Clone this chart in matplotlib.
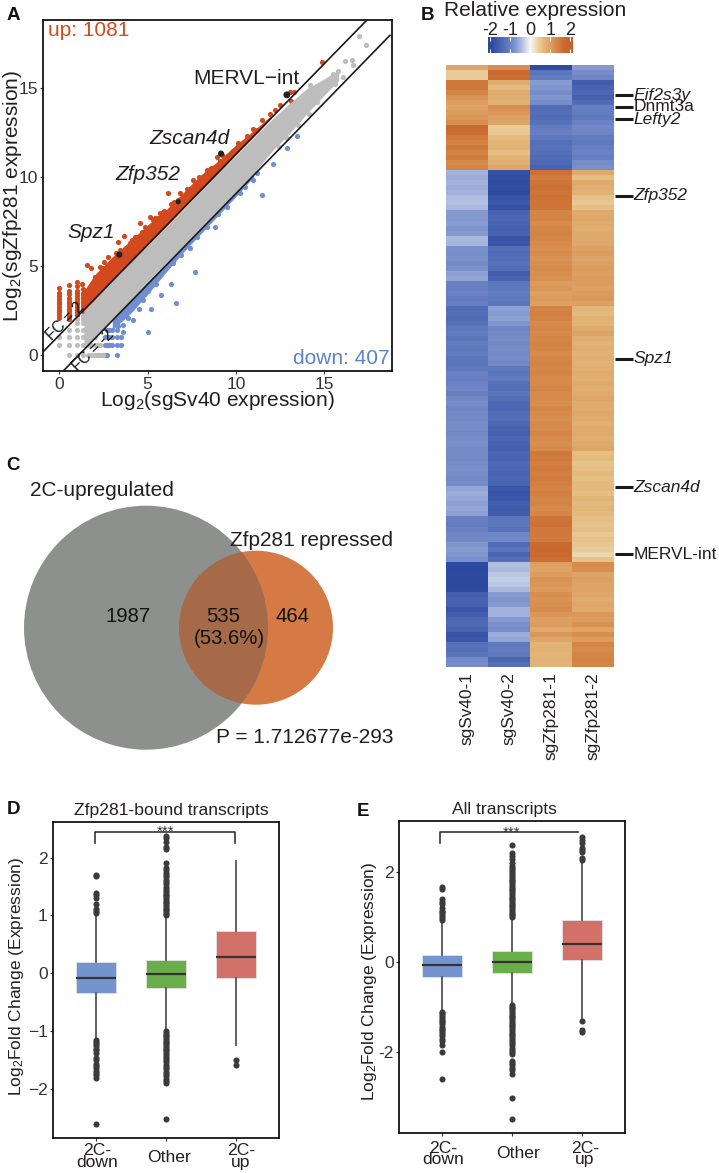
import matplotlib
matplotlib.use("Agg")
import matplotlib.pyplot as plt
from matplotlib.colors import LinearSegmentedColormap
from matplotlib.patches import Circle
import numpy as np

plt.rcParams['font.family'] = ['Liberation Sans', 'DejaVu Sans']
plt.rcParams['mathtext.fontset'] = 'custom'
plt.rcParams['mathtext.rm'] = 'Liberation Sans'
plt.rcParams['mathtext.it'] = 'Liberation Sans:italic'
plt.rcParams['mathtext.default'] = 'regular'

W, H = 719, 1173
INK = '#231F20'

# panel A
fc_up_x = [-0.9, 17.4]
fc_up_y = [0.19, 18.8]
fc_down_x = [0.23, 18.7]
fc_down_y = [-0.9, 17.94]

band_x = [1.4, 2, 3, 4, 5, 6, 7, 8, 9, 10, 11, 12]
red_lo = [2.4, 3.0, 4.1, 5.1, 6.15, 7.15, 8.2, 9.2, 10.2, 11.25, 12.25, 13.3]
red_hi = [3.6, 4.5, 5.5, 6.4, 7.3, 8.1, 9.1, 10.1, 10.9, 11.8, 12.6, 13.45]

blue_x = [3, 4, 5, 6, 7, 8, 9, 10, 11]
blue_lo = [1.4, 2.3, 3.4, 4.6, 5.75, 6.8, 7.85, 8.9, 10.0]
blue_hi = [2.0, 3.05, 4.1, 5.1, 6.1, 7.15, 8.15, 9.2, 10.2]

gray_x = [1.4, 2, 3, 4, 5, 6, 7, 8, 9, 10, 11, 12, 13, 14, 15, 15.8]
gray_hi = [2.5, 3.1, 4.2, 5.15, 6.15, 7.15, 8.15, 9.2, 10.2, 11.2, 12.2, 13.2, 14.1, 14.95, 15.5, 16.0]
gray_lo = [0.4, 1.0, 2.0, 3.05, 4.1, 5.1, 6.1, 7.15, 8.15, 9.2, 10.2, 11.4, 12.4, 13.55, 14.6, 15.4]

gray_dots_x = [0, 0, 0.57, 0.57, 0.57, 0.57, 0.98, 0.98, 0.98, 0.98, 0.98, 0.98, 1.32, 1.32, 1.32, 1.32, 1.32, 1.32, 1.32,
               1.64, 1.64, 1.64, 1.64, 1.81, 1.81, 1.81, 2, 2, 2, 2.17, 2.17, 2.32, 2.32, 2.46,
               16.17, 16.55, 16.64, 16.96, 17.35, 15.5, 15.75, 16.05, 15.3, 14.2,
               12.4, 12.9, 13.5, 14.1, 14.6, 15.1, 15.6]
gray_dots_y = [0.56, 1.03, 0, 0.56, 1.03, 1.4, 0, 0.56, 1.03, 1.4, 1.78, 2.0, 0, 0.56, 1.03, 1.4, 1.78, 2.0, 2.2,
               0, 0.56, 1.03, 1.4, 0, 0.56, 1.03, 0, 0.56, 1.03, 0, 0.56, 0, 0.56, 0,
               16.5, 16.57, 16.26, 17.9, 17.4, 15.75, 15.95, 15.6, 15.4, 15.15,
               11.7, 12.2, 12.9, 13.5, 14.2, 14.9, 15.2]

red_dots_x = [0, 0, 0, 0, 0, 0, 0, 0, 0, 0, 0, 0.57, 0.57, 0.57, 0.57, 0.57, 0.57, 0.57, 0.57, 0.57, 0.57, 0.57, 0.57,
              0.98, 0.98, 0.98, 0.98, 0.98, 0.98, 0.98, 0.98, 0.98, 0.98, 0.98, 0.98, 1.32, 1.32, 1.32, 1.32, 1.32, 1.32, 1.32, 1.32, 1.32,
              1.3, 1.58, 1.8, 2.1, 2.3, 2.55, 2.77, 3.0, 3.34, 3.66, 3.45, 4.1, 4.3, 4.57, 4.85, 5.13,
              5.4, 5.7, 5.9, 6.17, 6.5, 6.83, 7.2, 7.58, 7.9, 8.34, 8.6, 8.9, 9.2, 9.75, 10.1, 10.6,
              10.96, 11.2, 11.47, 11.9, 12.2, 12.5, 13.05, 13.3, 13.1, 14.85,
              2.0, 2.4, 2.9, 3.2, 3.8, 4.0, 4.4, 4.7, 5.0, 5.3, 5.6, 6.0, 6.3, 6.7, 7.0, 7.4, 7.7, 8.1, 8.5, 8.8,
              9.1, 9.5]
red_dots_y = [2.1, 2.25, 2.4, 2.55, 2.7, 2.85, 3.0, 3.15, 3.3, 3.5, 3.76, 2.0, 2.15, 2.3, 2.45, 2.6, 2.75, 2.9, 3.05, 3.2, 3.4, 3.6, 3.9,
              2.25, 2.4, 2.55, 2.7, 2.85, 3.0, 3.15, 3.3, 3.45, 3.6, 3.85, 4.1, 2.45, 2.6, 2.75, 2.9, 3.05, 3.2, 3.35, 3.5, 3.7,
              4.0, 5.05, 4.9, 4.2, 4.95, 5.2, 5.5, 5.2, 6.35, 6.67, 5.9, 6.45, 6.6, 7.38, 7.2, 7.75,
              7.7, 7.95, 8.1, 9.1, 8.6, 9.07, 9.3, 9.8, 10.0, 10.37, 10.5, 11.1, 11.2, 11.4, 11.9, 12.3,
              12.7, 12.65, 13.2, 13.5, 13.75, 14.03, 14.77, 14.77, 14.25, 16.45,
              4.4, 4.9, 5.0, 5.7, 6.0, 6.3, 6.6, 6.9, 7.0, 7.6, 7.7, 8.0, 8.5, 8.7, 8.9, 9.3, 9.6, 9.9, 10.3, 10.4,
              10.9, 11.1]

blue_dots_x = [2.0, 2.17, 2.32, 2.46, 2.58, 2.7, 3.25, 2.6, 2.7, 2.81, 3.0, 3.25, 3.5,
               2.58, 2.7, 2.81, 3.0, 3.25, 3.5, 2.7, 2.81, 3.0, 3.25, 3.6, 3.3, 3.6,
               3.9, 4.2, 4.0, 4.5, 4.75, 4.4, 5.0, 5.5, 5.04, 5.17, 6.6, 5.75, 7.68, 6.3, 6.45, 7.4, 6.9,
               7.8, 8.34, 8.8, 9.47, 10.2, 10.98, 11.45, 12.87, 13.43, 12.07, 11.2, 9.0, 10.5]
blue_dots_y = [0, 0, 0, 0, 0, 0, 0, 0.56, 0.56, 0.56, 0.56, 0.56, 0.56,
               1.03, 1.03, 1.03, 1.03, 1.03, 1.03, 1.4, 1.4, 1.4, 1.4, 1.68, 1.6, 1.3,
               2.1, 1.96, 2.5, 2.6, 3.08, 3.2, 3.6, 4.0, 1.31, 2.56, 2.9, 3.36, 4.64, 4.0, 5.14, 5.98, 5.6,
               6.6, 7.2, 7.2, 8.32, 9.07, 9.8, 9.0, 11.63, 12.3, 10.73, 10.2, 7.9, 9.4]

marked_x = [3.4, 6.73, 9.15, 12.87]
marked_y = [5.63, 8.6, 11.3, 14.6]
marked_size = [20, 14, 20, 24]

# panel B, one row per line of the heatmap
sv40_1 = [0.9, 0.45, 0.45, 1.5, 1.5, 1.3, 1.15, 1.0, 0.95, 1.05, 1.1, 1.2, 1.7, 1.65, 1.45, 1.35, 1.5, 1.35, 1.45, 1.25, 1.3,
          -0.5, -0.55, -0.5, -0.55, -0.5, -0.42, -0.4, -0.45, -0.7, -0.72, -0.68, -0.75, -0.7, -0.45, -0.48,
          -0.8, -0.82, -0.78, -0.85, -0.8, -0.65, -0.62, -1.0, -1.05, -1.0, -1.1, -1.05, -1.35, -1.3, -1.35, -1.25,
          -1.15, -1.1, -1.2, -1.1, -1.15, -1.1, -1.2, -1.2, -1.15, -1.0, -1.05, -1.0, -0.95, -1.05,
          -0.9, -0.85, -0.95, -0.9, -0.9, -0.85, -0.85, -0.9, -0.85, -0.8, -0.85,
          -0.85, -0.9, -0.85, -0.8, -0.85, -0.9, -0.85, -0.6, -0.55, -0.6, -0.65, -0.6, -0.65,
          -1.05, -1.1, -1.0, -0.95, -0.9, -0.75, -0.7, -0.75, -0.8,
          -1.95, -1.95, -1.9, -2.0, -1.95, -1.9, -1.55, -1.5, -1.55, -1.75, -1.6, -1.45, -1.4, -1.5, -1.75, -1.7, -1.25, -1.3, -1.2, -0.9, -0.85]
sv40_2 = [1.2, 1.7, 1.65, 0.85, 0.65, 0.85, 0.8, 0.75, 1.2, 1.1, 1.0, 0.95, 0.45, 0.5, 0.65, 0.7, 0.75, 0.6, 0.7, 0.8, 0.9,
          -1.8, -1.85, -1.9, -1.85, -1.9, -1.75, -1.7, -1.8, -1.5, -1.45, -1.5, -1.55, -1.5, -1.75, -1.7,
          -1.3, -1.35, -1.3, -1.25, -1.3, -1.6, -1.5, -1.2, -1.15, -1.1, -1.15, -1.2, -0.65, -0.7, -0.65, -0.75,
          -0.95, -0.9, -0.85, -0.9, -0.85, -0.9, -0.85, -0.9, -1.15, -1.2, -1.1, -1.25, -1.3, -1.2,
          -1.3, -1.4, -1.45, -1.35, -1.3, -1.4, -1.5, -1.55, -1.45, -1.5, -1.55,
          -1.45, -1.5, -1.4, -1.45, -1.5, -1.45, -1.5, -1.7, -1.75, -1.7, -1.6, -1.65, -1.6,
          -1.2, -1.15, -1.25, -0.95, -0.9, -1.35, -1.2, -1.45, -1.3,
          -0.4, -0.45, -0.35, -0.3, -0.35, -0.45, -0.7, -0.75, -0.7, -0.5, -0.5, -0.7, -0.8, -0.85, -0.55, -0.6, -1.15, -1.1, -1.15, -1.5, -1.3]
zfp281_1 = [-1.9, -1.2, -1.1, -0.7, -0.75, -0.85, -0.75, -0.85, -1.35, -1.3, -1.35, -1.25, -1.1, -1.05, -1.15, -1.3, -1.25, -1.3, -1.35, -1.4, -1.5,
            1.6, 1.45, 1.55, 1.6, 1.55, 1.6, 1.55, 1.55, 1.3, 1.35, 1.25, 1.3, 1.35, 1.3, 1.25,
            1.2, 1.25, 1.15, 1.2, 1.25, 1.2, 1.15, 1.05, 1.1, 1.0, 1.05, 1.0, 1.35, 1.4, 1.35, 1.25,
            1.3, 1.25, 1.3, 1.35, 1.3, 1.25, 1.3, 1.35, 1.3, 1.35, 1.25, 1.25, 1.3, 1.25,
            1.25, 1.2, 1.3, 1.25, 1.2, 1.25, 1.25, 1.3, 1.25, 1.2, 1.25,
            1.5, 1.45, 1.4, 1.45, 1.4, 1.45, 1.4, 1.35, 1.4, 1.3, 1.35, 1.25, 1.3,
            1.55, 1.6, 1.5, 1.5, 1.45, 1.7, 1.75, 1.7, 1.65,
            1.0, 0.95, 1.05, 1.15, 1.1, 1.05, 1.2, 1.15, 1.2, 1.25, 1.1, 1.0, 1.05, 0.85, 1.1, 0.9, 0.7, 0.75, 0.7, 0.75, 0.7]
zfp281_2 = [-0.7, -0.85, -0.95, -1.6, -1.5, -1.4, -1.55, -1.35, -1.05, -1.1, -1.15, -1.0, -0.9, -0.95, -1.1, -1.15, -1.05, -1.0, -1.05, -0.85, -0.8,
            0.85, 0.6, 0.85, 0.8, 0.75, 0.55, 0.5, 0.6, 0.85, 0.9, 0.85, 0.8, 0.85, 0.85, 0.9,
            1.0, 1.05, 0.95, 1.0, 1.05, 1.0, 1.05, 1.05, 1.0, 1.05, 1.1, 1.0, 0.7, 0.65, 0.75, 0.7,
            0.85, 0.95, 0.8, 0.75, 0.8, 0.75, 0.8, 0.75, 0.8, 0.85, 0.8, 0.85, 0.8, 0.85,
            0.9, 0.85, 0.85, 0.9, 0.85, 0.8, 0.85, 0.85, 0.8, 0.85, 0.9,
            0.6, 0.65, 0.55, 0.6, 0.65, 0.6, 0.65, 0.65, 0.6, 0.7, 0.65, 0.7, 0.65,
            0.6, 0.55, 0.6, 0.5, 0.55, 0.5, 0.45, 0.33, 0.55,
            1.25, 1.2, 0.95, 1.0, 0.95, 0.95, 0.9, 0.85, 0.9, 0.85, 1.1, 1.05, 1.15, 0.95, 1.2, 1.05, 1.3, 1.25, 1.3, 1.35, 1.3]
samples = ['sgSv40-1', 'sgSv40-2', 'sgZfp281-1', 'sgZfp281-2']
genes = ['Eif2s3y', 'Dnmt3a', 'Lefty2', 'Zfp352', 'Spz1', 'Zscan4d', 'MERVL-int']
gene_rows = [5.5, 7.8, 10.3, 25.6, 58.1, 83.7, 97.1]
gene_italic = [True, False, True, True, True, True, False]

# panels D and E
groups = ['2C-\ndown', 'Other', '2C-\nup']
box_colors = ['#7394CE', '#69AE48', '#D2706A']

d_q1 = [-0.334, -0.26, -0.075]
d_med = [-0.075, -0.017, 0.277]
d_q3 = [0.196, 0.23, 0.73]
d_lo = [-1.12, -0.97, -1.24]
d_hi = [1.0, 0.97, 1.94]
d_fliers = [
    [1.05, 1.08, 1.12, 1.2, 1.3, 1.35, 1.38, 1.68, 1.7, -1.15, -1.18, -1.22, -1.26, -1.3, -1.33, -1.37,
     -1.46, -1.5, -1.57, -1.6, -1.64, -1.68, -1.72, -1.76, -1.8, -2.6],
    [1.0, 1.03, 1.06, 1.09, 1.12, 1.15, 1.18, 1.21, 1.24, 1.27, 1.3, 1.33, 1.36, 1.39, 1.42, 1.46, 1.5, 1.54,
     1.58, 1.62, 1.66, 1.7, 1.74, 1.78, 1.82, 1.9, 2.15, 2.18, 2.27, 2.33, 2.38,
     -1.0, -1.03, -1.06, -1.09, -1.12, -1.15, -1.18, -1.21, -1.24, -1.27, -1.3, -1.33, -1.36, -1.39, -1.42, -1.46,
     -1.5, -1.54, -1.58, -1.62, -1.66, -1.7, -1.74, -1.78, -1.82, -1.86, -1.9, -2.52],
    [-1.5, -1.58],
]

e_q1 = [-0.327, -0.23, 0.05]
e_med = [-0.067, 0.0, 0.41]
e_q3 = [0.17, 0.26, 0.93]
e_lo = [-1.06, -0.93, -1.25]
e_hi = [0.906, 0.98, 2.24]
e_fliers = [
    [0.95, 0.99, 1.03, 1.07, 1.11, 1.15, 1.2, 1.3, 1.35, 1.4, 1.62, 1.67,
     -1.1, -1.14, -1.18, -1.22, -1.26, -1.3, -1.34, -1.38, -1.44, -1.48, -1.52, -1.56, -1.6, -1.65, -1.7, -1.75, -1.85, -2.0, -2.6],
    [1.0, 1.04, 1.08, 1.12, 1.16, 1.2, 1.24, 1.28, 1.32, 1.36, 1.4, 1.44, 1.48, 1.52, 1.56, 1.6, 1.64, 1.68, 1.72,
     1.76, 1.8, 1.84, 1.88, 1.92, 1.96, 2.0, 2.05, 2.1, 2.15, 2.2, 2.3, 2.36, 2.42, 2.6,
     -0.95, -0.99, -1.03, -1.07, -1.11, -1.15, -1.19, -1.23, -1.27, -1.31, -1.35, -1.39, -1.43, -1.47, -1.51, -1.55,
     -1.59, -1.63, -1.67, -1.71, -1.75, -1.8, -1.85, -1.9, -1.95, -2.0, -2.05, -2.2, -2.25, -2.3, -2.35, -2.4, -2.5, -3.03, -3.5],
    [2.27, 2.33, 2.45, 2.5, 2.55, 2.65, 2.72, 2.78, -1.3, -1.5, -1.55],
]


def px_axes(left, top, right, bottom):
    return fig.add_axes([left / W, 1 - bottom / H, (right - left) / W, (bottom - top) / H])


fig = plt.figure(figsize=(W / 100, H / 100), dpi=100, facecolor='white')

# ---- A scatter
ax = px_axes(43.3, 20, 391.7, 371)
ax.fill_between(band_x, red_lo, red_hi, color='#D2491E', lw=0, zorder=1)
ax.fill_between(blue_x, blue_lo, blue_hi, color='#6F8FD2', lw=0, zorder=1)
ax.scatter(red_dots_x, red_dots_y, s=14, color='#D2491E', lw=0, zorder=1)
ax.scatter(blue_dots_x, blue_dots_y, s=14, color='#6F8FD2', lw=0, zorder=1)
ax.fill_between(gray_x, gray_lo, gray_hi, color='#BDBDBD', lw=0, zorder=2)
ax.scatter(gray_dots_x, gray_dots_y, s=14, color='#BDBDBD', lw=0, zorder=2)
ax.scatter(marked_x, marked_y, s=marked_size, color='#222222', lw=0, zorder=4)
ax.plot(fc_up_x, fc_up_y, color='#1a1a1a', lw=1.2, zorder=3)
ax.plot(fc_down_x, fc_down_y, color='#1a1a1a', lw=1.2, zorder=3)
ax.set_xlim(-0.9, 18.8)
ax.set_ylim(-0.9, 18.8)
ax.set_xticks([0, 5, 10, 15])
ax.set_yticks([0, 5, 10, 15])
ax.tick_params(labelsize=12.5, length=2.5, width=0.8, pad=1.5, colors='#333333')
ax.set_xlabel('Log$_2$(sgSv40 expression)', fontsize=15, color=INK, labelpad=-1.5)
ax.set_ylabel('Log$_2$(sgZfp281 expression)', fontsize=15, color=INK)
ax.yaxis.set_label_coords(-0.055, 0.5)
for s in ax.spines.values():
    s.set_linewidth(1.2)

# ---- B heatmap
ax_h = px_axes(446, 65, 613.7, 666.7)
matrix = np.array([sv40_1, sv40_2, zfp281_1, zfp281_2]).T
span = 2.12
nodes = [(-2.12, '#2A479F'), (-1.9, '#2F4CA2'), (-1.3, '#5570B8'), (-0.8, '#7A90CB'), (-0.5, '#A3B3DD'), (0, '#F8F8F2'),
         (0.35, '#EBD5A8'), (0.7, '#E3B678'), (1.0, '#DDA163'), (1.3, '#D58748'), (1.7, '#CB6A31'), (2.12, '#C65F28')]
cmap = LinearSegmentedColormap.from_list('relexp', [((v + span) / (2 * span), c) for v, c in nodes])
im = ax_h.imshow(matrix, aspect='auto', cmap=cmap, vmin=-span, vmax=span, interpolation='nearest')
ax_h.set_yticks([])
ax_h.set_xticks(range(4), samples, rotation=90, fontsize=12.4, color=INK)
ax_h.tick_params(axis='x', length=0, pad=4)
for s in ax_h.spines.values():
    s.set_visible(False)
for g, r, it in zip(genes, gene_rows, gene_italic):
    ax_h.plot([3.53, 3.95], [r, r], color='#1a1a1a', lw=2.2, clip_on=False, solid_capstyle='butt')
    ax_h.text(3.97, r, g, fontsize=12.5, style='italic' if it else 'normal', va='center', ha='left', color=INK)
ax_h.set_xlim(-0.5, 3.5)
ax_h.set_ylim(len(sv40_1) - 0.5, -0.5)

cax = px_axes(487.7, 36.7, 572.7, 53.3)
cb = fig.colorbar(im, cax=cax, orientation='horizontal', ticks=[-2, -1, 0, 1, 2])
cb.outline.set_visible(False)
cax.set_xticklabels(['-2', '-1', '0', '1', '2'])
cax.tick_params(axis='x', top=True, bottom=True, labeltop=True, labelbottom=False, direction='in', color='white',
                length=3, width=0.8, labelsize=13, pad=-2, labelcolor=INK)

# ---- D and E boxplots
def boxes(rect, ylim, yticks, ylabels, q1, med, q3, lo, hi, fliers, title, title_x, ylab_xy):
    a = px_axes(*rect)
    stats = [dict(q1=q1[i], med=med[i], q3=q3[i], whislo=lo[i], whishi=hi[i], fliers=fliers[i]) for i in range(3)]
    b = a.bxp(stats, positions=[1, 2, 3], widths=0.57, patch_artist=True, showcaps=False,
              whiskerprops=dict(color='#555555', lw=1.3),
              medianprops=dict(color='#333333', lw=1.6),
              flierprops=dict(marker='o', ms=4.4, mfc='#3b3b3b', mec='#3b3b3b', mew=0))
    for p, c in zip(b['boxes'], box_colors):
        p.set_facecolor(c)
        p.set_edgecolor('#E3E3E3')
        p.set_linewidth(0.6)
    a.set_xlim(0.396, 3.61)
    a.set_ylim(*ylim)
    a.set_xticks([1, 2, 3], [''] * 3)
    a.set_yticks(yticks, ylabels)
    a.tick_params(labelsize=12.5, length=2.5, width=0.8, pad=1.5, colors='#333333')
    a.set_ylabel('Log$_2$Fold Change (Expression)', fontsize=12.5, color=INK)
    a.yaxis.set_label_coords(*ylab_xy)
    a.set_title(title, fontsize=12.6, color=INK, pad=5, x=title_x)
    for s in a.spines.values():
        s.set_linewidth(1.2)
    return a


ax_d = boxes((53.3, 821.7, 279, 1138.3), (-2.85, 2.62), [-2, -1, 0, 1, 2], ['\u22122', '\u22121', '0', '1', '2'],
             d_q1, d_med, d_q3, d_lo, d_hi, d_fliers, 'Zfp281-bound transcripts', 0.525, (-0.12, 0.51))
ax_d.plot([0.99, 0.99, 2.99, 2.99], [2.25, 2.445, 2.445, 2.25], color='#333333', lw=1.2)
ax_d.text(2.0, 2.44, '***', ha='center', va='center', fontsize=11, color='#333333')

ax_e = boxes((399.3, 820.7, 625, 1133.3), (-3.81, 3.15), [-2, 0, 2], ['-2', '0', '2'],
             e_q1, e_med, e_q3, e_lo, e_hi, e_fliers, 'All transcripts', 0.468, (-0.09, 0.487))
ax_e.plot([0.97, 0.97, 2.94], [2.65, 2.9, 2.9], color='#333333', lw=1.2)
ax_e.text(2.0, 2.88, '***', ha='center', va='center', fontsize=11, color='#333333')

# ---- overlay in pixel coordinates: venn and loose text
ov = fig.add_axes([0, 0, 1, 1], facecolor='none', zorder=10)
ov.set_xlim(0, W)
ov.set_ylim(H, 0)
ov.axis('off')

gray_c = Circle((146, 627.7), 122, color='#8E908E', lw=0)
orange_c = Circle((256, 627.7), 77, color='#D67A45', lw=0)
both_c = Circle((256, 627.7), 77, color='#A66A48', lw=0)
ov.add_patch(orange_c)
ov.add_patch(gray_c)
ov.add_patch(both_c)
both_c.set_clip_path(Circle((146, 627.7), 122, transform=ov.transData))


def t(x, y, s, fs=15, **kw):
    kw.setdefault('ha', 'center')
    kw.setdefault('va', 'center')
    kw.setdefault('color', INK)
    ov.text(x, y, s, fontsize=fs, **kw)


t(30, 490.7, '2C-upregulated', ha='left')
t(230, 540.7, 'Zfp281 repressed', ha='left')
t(128, 616, '1987', fs=14.6, color='#111111')
t(223, 616, '535', fs=14.6, color='#111111')
t(229, 639, '(53.6%)', fs=14.6, color='#111111')
t(293, 616, '464', fs=14.6, color='#111111')
t(216, 737.7, 'P = 1.712677e-293', ha='left')

t(535, 10, 'Relative expression')

# panel A annotations
t(48, 31, 'up: 1081', ha='left', color='#D2491E')
t(390, 358, 'down: 407', ha='right', color='#5B84C4')
t(193, 79, 'MERVL\u2212int', ha='left')
t(149, 139, 'Zscan4d', ha='left', style='italic')
t(115, 174, 'Zfp352', ha='left', style='italic')
t(67, 233, 'Spz1', ha='left', style='italic')
t(65, 321, 'FC = 2', fs=11.2, rotation=45, color='#111111')
t(93.3, 350, 'FC = -2', fs=11.2, rotation=45, color='#111111')

# boxplot category labels
for x, y, lab in zip([97, 169, 240.7], [1156.5, 1157, 1156.5], groups):
    t(x, y, lab, fs=12.6, linespacing=0.68)
for x, y, lab in zip([443, 517.7, 585], [1154, 1154, 1154], groups):
    t(x, y, lab, fs=12.6, linespacing=0.68)

# panel letters
for x, y, lab in [(13, 15, 'A'), (427, 15, 'B'), (13, 466, 'C'), (13, 809, 'D'), (363, 811, 'E')]:
    t(x, y, lab, fs=13.5, fontweight='bold', color='#111111')

fig.savefig('out.png', dpi=100)
